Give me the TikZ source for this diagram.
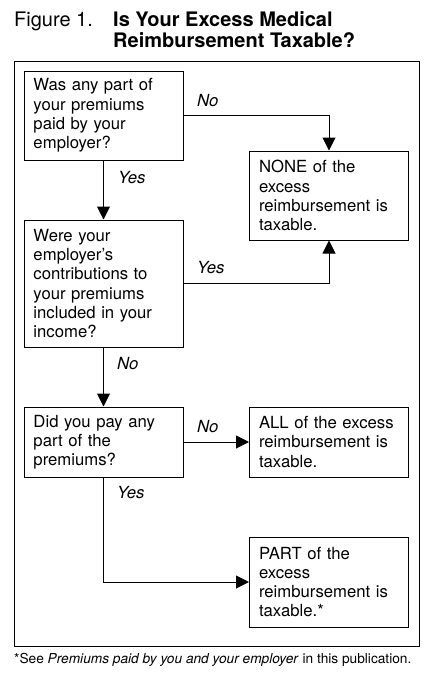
\documentclass[tikz,border=0pt]{standalone}
\usepackage{fontspec}
\setmainfont{TeX Gyre Heros}
\usetikzlibrary{arrows.meta}
\begin{document}
\begin{tikzpicture}[x=1pt,y=-1pt,
  box/.style={draw,line width=1pt,minimum width=159pt,text width=140pt,inner xsep=9.5pt,align=left,
    font=\fontsize{16.7}{19.2}\selectfont},
  conn/.style={line width=1pt},
  arr/.style={line width=1pt,-{Triangle[length=13pt,width=13pt]}},
  lbl/.style={anchor=west,inner sep=0pt,font=\fontsize{16.7}{19.2}\selectfont\itshape},
  ttl/.style={anchor=base west,inner sep=0pt,font=\fontsize{20}{22}\selectfont}]
\useasboundingbox (0,0) rectangle (428,673);
\node[ttl] (fig) at (14,26) {Figure 1.};
\node[ttl,font=\fontsize{20}{22}\selectfont\bfseries] (t1) at (113,26) {Is Your Excess Medical};
\node[ttl,font=\fontsize{20}{22}\selectfont\bfseries] (t2) at (113,47) {Reimbursement Taxable?};
\draw[line width=1pt] (14,61) rectangle (419,646);
\node[box,minimum height=89pt] (q1) at (103.5,115.5) {Was any part of\\your premiums\\paid by your\\employer?};
\node[box,minimum height=89pt] (none) at (329,195.5) {NONE of the\\excess\\reimbursement is\\taxable.};
\node[box,minimum height=127pt] (q2) at (103.5,283.5) {Were your\\employer’s\\contributions to\\your premiums\\included in your\\income?};
\node[box,minimum height=70pt] (q3) at (103.5,442) {Did you pay any\\part of the\\premiums?};
\node[box,minimum height=70pt] (all) at (329,442) {ALL of the excess\\reimbursement is\\taxable.};
\node[box,minimum height=90pt] (part) at (329,582) {PART of the\\excess\\reimbursement is\\taxable.*};
\draw[arr] (q1.east) -| (none.north);
\draw[arr] (q1.south) -- (q2.north);
\draw[arr] (q2.east) -| (none.south);
\draw[arr] (q2.south) -- (q3.north);
\draw[arr] (q3.east) -- (all.west);
\draw[arr] (q3.south) |- (part.west);
\node[lbl] (l1) at (197,101) {No};
\node[lbl] (l2) at (118,178) {Yes};
\node[lbl] (l3) at (197,268) {Yes};
\node[lbl] (l4) at (117,364) {No};
\node[lbl] (l5) at (197,427) {No};
\node[lbl] (l6) at (117,493) {Yes};
\node[anchor=west,inner sep=0pt,font=\fontsize{13.7}{15}\selectfont] (fn) at (14,660) {*See \textit{Premiums paid by you and your employer} in this publication.};
\end{tikzpicture}
\end{document}
